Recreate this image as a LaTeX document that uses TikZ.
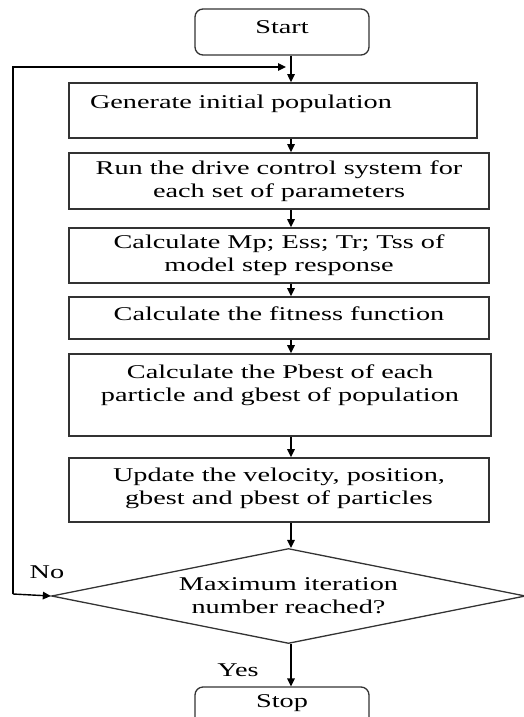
\documentclass[tikz,border=0pt]{standalone}
\usepackage{fontspec}
\setmainfont{Liberation Serif}[FakeStretch=1.45]
\usetikzlibrary{arrows.meta,positioning,shapes.geometric}
\tikzset{
    %Define standard arrow tip
    >={Triangle[length=8pt,width=7.5pt]},
    %Define style for boxes
    proc/.style={
           rectangle,
           draw=black!80, line width=1.8pt,
           minimum width=420pt,
           inner sep=0pt,
           align=center},
    term/.style={
           rectangle,
           rounded corners=8pt,
           draw=black!80, line width=1.3pt,
           minimum width=174pt,
           minimum height=46pt},
    decide/.style={
           diamond, aspect=5,
           draw=black!80, line width=1.3pt,
           minimum width=474pt,
           minimum height=95pt,
           inner sep=0pt,
           align=center},
    % Define arrow style
    pil/.style={
           ->,
           line width=1.4pt},
    every node/.style={font=\fontsize{19.5}{23}\selectfont}
}
\begin{document}
\begin{tikzpicture}[x=1pt, y=-1pt]
\useasboundingbox (0,0) rectangle (523,717);

% arrows run down this line
\coordinate (axis) at (291,0);

\node[term, text depth=10pt] (start) at (282,32) {Start};
\node[proc, minimum width=408pt, minimum height=55pt, text width=366pt, inner xsep=21pt, align=left] (gen) at (273,110.5) {Generate initial population\\[-6pt]\mbox{}};
\node[proc, minimum height=56pt] (run) at (279,181) {Run the drive control system for\\each set of parameters};
\node[proc, minimum height=55pt] (calc) at (279,255.5) {Calculate Mp; Ess; Tr; Tss of\\model step response};
\node[proc, minimum height=42pt, text depth=8pt] (fit) at (279,318) {Calculate the fitness function};
\node[proc, minimum width=422pt, minimum height=82pt] (pbest) at (280,395) {Calculate the Pbest of each\\particle and gbest of population\\ \mbox{}};
\node[proc, minimum height=64pt] (upd) at (279,490) {Update the velocity, position,\\gbest and pbest of particles\\[-16pt]\mbox{}};
\node[decide] (dia) at (288.5,596) {Maximum iteration\\number reached?};
\node[term, text depth=18pt] (stop) at (282,710) {Stop};

% answers
\node (no) at (47,572) {No};
\node (yes) at (238,670) {Yes};

% connectors
\coordinate (join) at (291,67);
\coordinate (back) at (13,594);
\draw[pil] (start.south -| axis) -- (gen.north -| axis);
\foreach \a/\b in {gen/run, run/calc, calc/fit, fit/pbest, pbest/upd, upd/dia, dia/stop}
  \draw[pil] (\a.south -| axis) -- (\b.north -| axis);

% loop back when not reached
\draw[pil] (back) -- (dia.west);
\draw[pil, shorten >=5pt] (back) |- (join);

\end{tikzpicture}
\end{document}
